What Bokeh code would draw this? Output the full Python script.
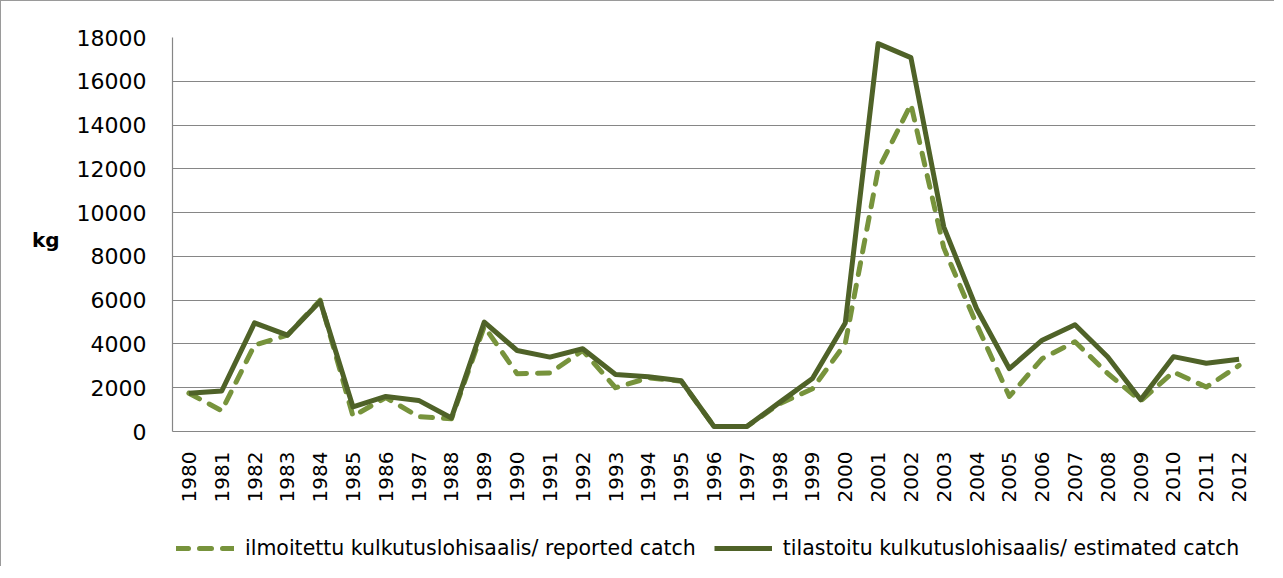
import math
from bokeh.plotting import figure
from bokeh.layouts import column
from bokeh.models import FactorRange, Range1d, FixedTicker, Legend, LegendItem, LinearAxis
from bokeh.embed import file_html
from bokeh.resources import INLINE

years = ["1980", "1981", "1982", "1983", "1984", "1985", "1986", "1987", "1988", "1989",
         "1990", "1991", "1992", "1993", "1994", "1995", "1996", "1997", "1998", "1999",
         "2000", "2001", "2002", "2003", "2004", "2005", "2006", "2007", "2008", "2009",
         "2010", "2011", "2012"]

reported = [1750, 950, 3950, 4400, 6000, 700, 1550, 680, 580, 4800,
            2640, 2670, 3700, 2000, 2450, 2300, 230, 230, 1270, 1950,
            4020, 11950, 14950, 8400, 4900, 1600, 3330, 4100, 2650, 1400,
            2720, 2030, 3020]

estimated = [1750, 1850, 4960, 4400, 5950, 1120, 1600, 1420, 620, 5000,
             3700, 3400, 3780, 2600, 2500, 2320, 230, 230, 1330, 2420,
             4960, 17720, 17080, 9350, 5620, 2870, 4170, 4880, 3400, 1450,
             3420, 3120, 3300]

y_ticks = [0, 2000, 4000, 6000, 8000, 10000, 12000, 14000, 16000, 18000]
unit_label = "kg"
unit_pos = 8750

label_reported = "ilmoitettu kulkutuslohisaalis/ reported catch"
label_estimated = "tilastoitu kulkutuslohisaalis/ estimated catch"

FONT = "DejaVu Sans"
GRID = "#868686"
C_REP = "#77933C"
C_EST = "#4F6228"
BORDER = "1px solid #9a9a9a"

x_range = FactorRange(factors=years, range_padding=0)

p = figure(x_range=x_range, y_range=Range1d(0, 18000),
           frame_width=1082, frame_height=393,
           output_backend="svg", toolbar_location=None,
           min_border_left=171, min_border_right=20,
           min_border_top=36, min_border_bottom=10)
p.styles = {"border-left": BORDER, "border-top": BORDER}

p.line(years, reported, line_color=C_REP, line_width=5,
       line_dash="12 11", line_cap="round", line_join="round")
p.line(years, estimated, line_color=C_EST, line_width=5, line_join="round")

p.outline_line_color = None
p.xgrid.grid_line_color = None
p.ygrid.grid_line_color = GRID
p.ygrid.grid_line_width = 1.2

p.yaxis.ticker = FixedTicker(ticks=y_ticks)
p.yaxis.axis_line_color = GRID
p.yaxis.axis_line_width = 1.2
p.yaxis.major_tick_line_color = None
p.yaxis.minor_tick_line_color = None
p.yaxis.major_tick_out = 0
p.yaxis.major_tick_in = 0
p.yaxis.major_label_standoff = 26
p.yaxis.major_label_text_font = FONT
p.yaxis.major_label_text_font_size = "22px"
p.yaxis.major_label_text_color = "black"

kg_axis = LinearAxis(ticker=FixedTicker(ticks=[unit_pos]),
                     major_label_overrides={unit_pos: unit_label},
                     axis_line_color=None, major_tick_line_color=None,
                     minor_tick_line_color=None, major_tick_out=0, major_tick_in=0,
                     major_label_standoff=14,
                     major_label_text_font=FONT, major_label_text_font_style="bold",
                     major_label_text_font_size="20px", major_label_text_color="black")
p.add_layout(kg_axis, "left")

p.xaxis.axis_line_color = GRID
p.xaxis.axis_line_width = 1.2
p.xaxis.major_tick_line_color = None
p.xaxis.major_tick_out = 0
p.xaxis.major_tick_in = 0
p.xaxis.major_label_orientation = math.pi / 2
p.xaxis.major_label_standoff = 20
p.xaxis.major_label_text_font = FONT
p.xaxis.major_label_text_font_size = "20px"
p.xaxis.major_label_text_color = "black"

# legend strip: a second figure; its lines lie outside its y range, only the legend shows
leg = figure(x_range=x_range, y_range=Range1d(-2, -1),
             width=1273, height=62, output_backend="svg", toolbar_location=None,
             x_axis_type=None, y_axis_type=None,
             min_border_left=0, min_border_right=0, min_border_top=0, min_border_bottom=0)
leg.styles = {"border-left": BORDER}
leg.outline_line_color = None
leg.xgrid.visible = False
leg.ygrid.visible = False

l1 = leg.line(years, reported, line_color=C_REP, line_width=5,
              line_dash="12 11", line_cap="round")
l2 = leg.line(years, estimated, line_color=C_EST, line_width=5)

legend = Legend(items=[LegendItem(label=label_reported, renderers=[l1]),
                       LegendItem(label=label_estimated, renderers=[l2])],
                orientation="horizontal", location=(4, 6),
                glyph_width=58, glyph_height=24, label_height=24,
                label_standoff=11, spacing=18, padding=0, margin=0,
                border_line_color=None, background_fill_alpha=0,
                label_text_font=FONT, label_text_font_size="20.5px",
                label_text_color="black")
leg.add_layout(legend, "center")

layout = column(p, leg, spacing=0)

open("out.html", "w").write(file_html(layout, INLINE))
